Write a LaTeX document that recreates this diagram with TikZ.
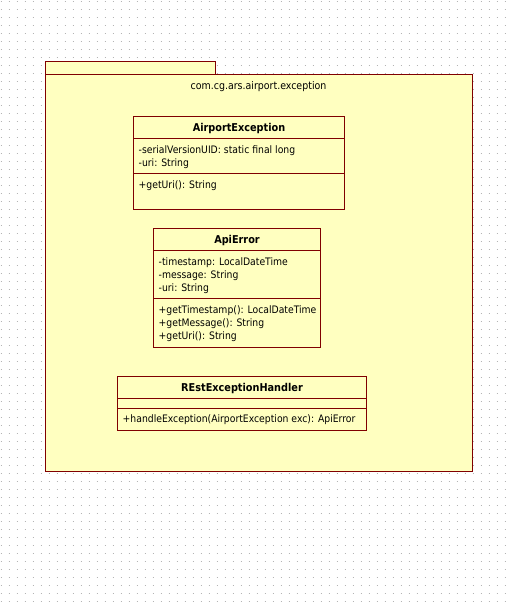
\documentclass[tikz,border=0pt]{standalone}
\usepackage{fontspec}
\setmainfont{DejaVu Sans Condensed}
\definecolor{umlfill}{HTML}{FFFFC0}
\definecolor{umlline}{HTML}{800000}
\definecolor{griddot}{HTML}{B4B4B4}
\begin{document}
\begin{tikzpicture}[x=1pt,y=-1pt,
  umlbox/.style={draw=umlline, fill=umlfill, line width=1pt, inner sep=0pt, anchor=north west},
  sepline/.style={draw=umlline, line width=1pt},
  lbl/.style={inner sep=0pt, anchor=base west, font=\fontsize{10.3}{12}\selectfont},
  ttl/.style={inner sep=0pt, anchor=base, font=\fontsize{10.8}{12}\selectfont\bfseries}]
\useasboundingbox (0,0) rectangle (509,604);
\fill[white] (0,0) rectangle (509,604);
% dotted grid
\foreach \r in {0,...,75}{
  \draw[griddot, line width=1pt, dash pattern=on 1pt off 7pt] (0.5,{1.5+8*\r}) -- (509,{1.5+8*\r});
}
% package
\node[umlbox, minimum width=170pt, minimum height=13.5pt] (tab) at (45,61) {};
\node[umlbox, minimum width=427pt, minimum height=396.5pt] (pkg) at (45,74) {};
\node[inner sep=0pt, anchor=base, font=\fontsize{10.5}{12}\selectfont] (pkgname) at (258.5,90) {com.cg.ars.airport.exception};
% AirportException
\node[umlbox, minimum width=211pt, minimum height=92.5pt] (ae) at (133.3,116.3) {};
\draw[sepline] (ae.west |- 0,138.3) -- (ae.east |- 0,138.3);
\draw[sepline] (ae.west |- 0,173.3) -- (ae.east |- 0,173.3);
\node[ttl] (aet) at (239,131.3) {AirportException};
\node[lbl] (aea1) at (138.5,153.8) {-serialVersionUID: static final long};
\node[lbl] (aea2) at (138.5,166.5) {-uri: String};
\node[lbl] (aem1) at (138.5,188.8) {+getUri(): String};
% ApiError
\node[umlbox, minimum width=167pt, minimum height=118.5pt] (api) at (153.3,228.3) {};
\draw[sepline] (api.west |- 0,250.3) -- (api.east |- 0,250.3);
\draw[sepline] (api.west |- 0,298.7) -- (api.east |- 0,298.7);
\node[ttl] (apit) at (237,243) {ApiError};
\node[lbl] (apia1) at (158.5,265.8) {-timestamp: LocalDateTime};
\node[lbl] (apia2) at (158.5,278.5) {-message: String};
\node[lbl] (apia3) at (158.5,291.2) {-uri: String};
\node[lbl] (apim1) at (158.5,313.8) {+getTimestamp(): LocalDateTime};
\node[lbl] (apim2) at (158.5,326.5) {+getMessage(): String};
\node[lbl] (apim3) at (158.5,339.2) {+getUri(): String};
% RestExceptionHandler
\node[umlbox, minimum width=249pt, minimum height=53.5pt] (reh) at (117.3,376.3) {};
\draw[sepline] (reh.west |- 0,398.3) -- (reh.east |- 0,398.3);
\draw[sepline] (reh.west |- 0,408.3) -- (reh.east |- 0,408.3);
\node[ttl] (reht) at (242,391) {REstExceptionHandler};
\node[lbl] (rehm1) at (122.5,422.8) {+handleException(AirportException exc): ApiError};
\end{tikzpicture}
\end{document}
